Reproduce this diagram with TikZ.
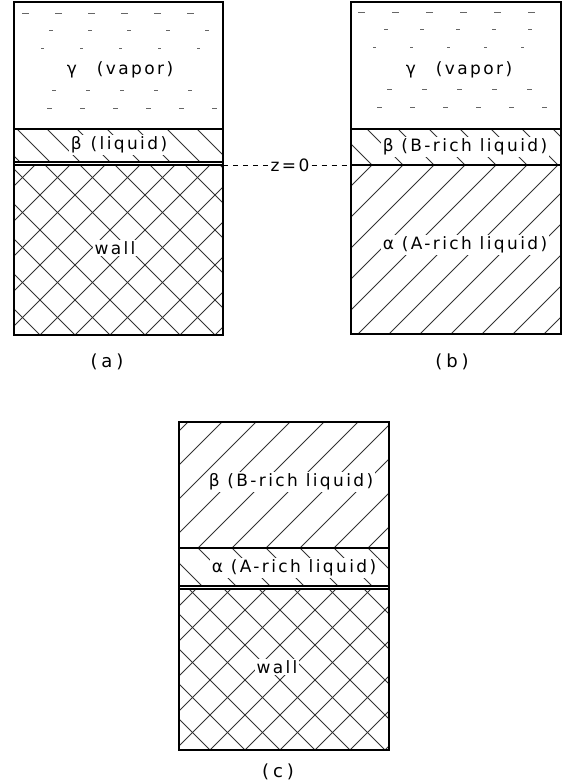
\documentclass[tikz,border=0pt]{standalone}
\usepackage{fontspec}
\setmainfont{DejaVu Sans}[LetterSpace=14]
\newcommand\hatchD[7]{% clip x1 y1 x2 y2, ref y0, ref x0, step : "\" lines
  \begin{scope}
    \clip (#1,#2) rectangle (#3,#4);
    \foreach \i in {-20,...,20}
      \draw[hatch] ({#6+\i*#7-400},{#5-400}) -- ({#6+\i*#7+400},{#5+400});
  \end{scope}}
\newcommand\hatchU[7]{% clip x1 y1 x2 y2, ref y0, ref x0, step : "/" lines
  \begin{scope}
    \clip (#1,#2) rectangle (#3,#4);
    \foreach \i in {-20,...,20}
      \draw[hatch] ({#6+\i*#7-400},{#5+400}) -- ({#6+\i*#7+400},{#5-400});
  \end{scope}}
\newcommand\vaprow[5]{% x1 x2 y phase on-off
  \draw[vap,dash pattern=#5,dash phase=#4] (#1,#3) -- (#2,#3);}
\begin{document}
\begin{tikzpicture}[x=1pt,y=-1pt,
  frame/.style={line width=1.7pt},
  sep/.style={line width=1.4pt},
  hatch/.style={line width=0.8pt,black!80},
  vap/.style={line width=0.8pt,black!60},
  lbl/.style={font=\fontsize{17}{19}\selectfont,inner sep=1.5pt,fill=white},
  captxt/.style={font=\fontsize{18}{20}\selectfont\addfontfeature{LetterSpace=22},inner sep=0pt}]
\useasboundingbox (0,0) rectangle (562,784);

% ---------------- panel (a) ----------------
\vaprow{22}{218}{13}{0}{on 7pt off 26pt}
\vaprow{22}{218}{30}{12}{on 4pt off 35pt}
\vaprow{22}{218}{48}{20}{on 3pt off 36pt}
\vaprow{22}{218}{90}{4}{on 4pt off 30pt}
\vaprow{22}{218}{108}{8}{on 5pt off 28pt}
\hatchD{14}{129}{223}{162}{162}{110}{30}
\hatchD{14}{165}{223}{335}{335}{40}{35}
\hatchU{14}{165}{223}{335}{335}{40}{35}
\draw[sep] (14,129) -- (223,129);
\draw[sep] (14,162) -- (223,162);
\draw[sep] (14,165) -- (223,165);
\draw[frame] (14,2) rectangle (223,335);
\node[lbl] (ga) at (120,70) {γ\hspace{20pt}(vapor)};
\node[lbl] (ba) at (119,145) {β\hspace{9pt}(liquid)};
\node[lbl] (wa) at (115,248) {wall};
\node[captxt] (la) at (107,362) {(a)};

% ---------------- panel (b) ----------------
\vaprow{358}{556}{12}{0}{on 7pt off 27pt}
\vaprow{358}{556}{29}{10}{on 4pt off 32pt}
\vaprow{358}{556}{47}{22}{on 3pt off 34pt}
\vaprow{358}{556}{89}{6}{on 5pt off 30pt}
\vaprow{358}{556}{107}{14}{on 5pt off 28pt}
\hatchD{351}{129}{561}{165}{165}{372}{31}
\hatchU{351}{165}{561}{334}{165}{372}{31}
\draw[sep] (351,129) -- (561,129);
\draw[sep] (351,165) -- (561,165);
\draw[frame] (351,2) rectangle (561,334);
\node[lbl] (gb) at (459,70) {γ\hspace{20pt}(vapor)};
\node[lbl] (bb) at (465,147) {β (B-rich liquid)};
\node[lbl] (ab) at (465,245) {α (A-rich liquid)};
\node[captxt] (lb) at (452,362) {(b)};

% ---------------- z = 0 ----------------
\node[font=\fontsize{17}{19}\selectfont,inner sep=2pt] (z0) at (290,165) {z=0};
\coordinate (za) at (223,165);
\coordinate (zb) at (351,165);
\draw[line width=0.9pt,dash pattern=on 5pt off 5pt] (za) -- (z0.west);
\draw[line width=0.9pt,dash pattern=on 5pt off 5pt] (z0.east) -- (zb);

% ---------------- panel (c) ----------------
\hatchU{179}{422}{389}{548}{548}{198}{34}
\hatchD{179}{548}{389}{586}{548}{198}{34}
\hatchD{179}{589}{389}{750}{750}{210}{35}
\hatchU{179}{589}{389}{750}{750}{210}{35}
\draw[sep] (179,548) -- (389,548);
\draw[sep] (179,586) -- (389,586);
\draw[sep] (179,589) -- (389,589);
\draw[frame] (179,422) rectangle (389,750);
\node[lbl] (bc) at (291,482) {β (B-rich liquid)};
\node[lbl] (ac) at (294,568) {α (A-rich liquid)};
\node[lbl] (wc) at (277,667) {wall};
\node[captxt] (lc) at (278,772) {(c)};
\end{tikzpicture}
\end{document}
